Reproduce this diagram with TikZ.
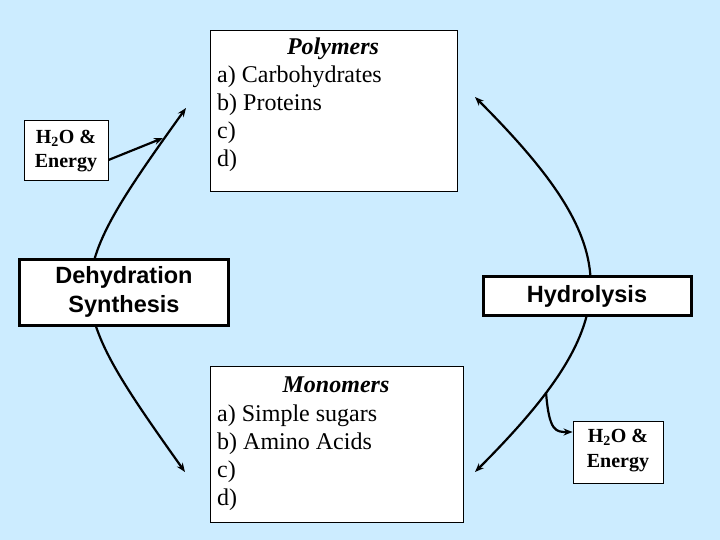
\documentclass[tikz,border=0pt]{standalone}
\usepackage{fontspec}
\setmainfont{Liberation Serif}
\setsansfont{Liberation Sans}
\usetikzlibrary{arrows.meta}
\definecolor{bg}{RGB}{204,236,255}
\tikzset{
  thinbox/.style={draw=black, line width=0.9pt, fill=white, inner sep=0pt},
  thickbox/.style={draw=black, line width=3pt, fill=white, inner sep=0pt},
  listtext/.style={font=\fontsize{24}{28}\selectfont, align=left, anchor=base west, inner sep=0pt},
  headtext/.style={font=\fontsize{24}{28}\selectfont\bfseries\itshape, anchor=base, inner sep=0pt},
  smalltext/.style={font=\fontsize{20}{24.5}\selectfont\bfseries, align=center, anchor=base, inner sep=0pt},
  sanstext/.style={font=\fontsize{23.5}{29}\selectfont\sffamily\bfseries, align=center, inner sep=0pt},
  cycle/.style={line width=2.2pt, -{Stealth[length=9pt,width=7pt]}},
  both/.style={line width=2.2pt, {Stealth[length=9pt,width=7pt]}-{Stealth[length=9pt,width=7pt]}}
}
\begin{document}
\begin{tikzpicture}[x=1pt,y=-1pt]
\path[fill=bg] (0,0) rectangle (720,540);
\useasboundingbox (0,0) rectangle (720,540);
% curve end points
\coordinate (ltop) at (186,108);
\coordinate (lbot) at (185,472);
\coordinate (rtop) at (475,97);
\coordinate (rbot) at (475,472);
\coordinate (lhit) at (163,138);
\coordinate (rhit) at (546,392);
% cycle curves
\draw[both] (lbot) .. controls (59,295) and (59,285) .. (ltop);
\draw[both] (rtop) .. controls (628,250) and (628,319) .. (rbot);
% polymers box
\node[thinbox, minimum width=247, minimum height=161] (poly) at (333.5,110.5) {};
\node[headtext] (polyhead) at (333,55) {Polymers};
\node[listtext] (polylist) at (217,167) {a) Carbohydrates\\ b) Proteins\\ c)\\ d)};
% monomers box
\node[thinbox, minimum width=253, minimum height=156] (mono) at (336.5,444) {};
\node[headtext] (monohead) at (336,392) {Monomers};
\node[listtext] (monolist) at (217,505) {a) Simple sugars\\ b) Amino Acids\\ c)\\ d)};
% process boxes
\node[thickbox, minimum width=209, minimum height=66] (dehyd) at (124,292) {};
\node[sanstext] (dehydtext) at (124,292) {Dehydration\\ Synthesis};
\node[thickbox, minimum width=208, minimum height=39] (hydro) at (587,296) {};
\node[sanstext] (hydrotext) at (587,296) {Hydrolysis};
% water & energy boxes
\node[thinbox, minimum width=84, minimum height=60] (lh2o) at (66,150) {};
\node[smalltext] (lh2otext) at (66,168) {H\textsubscript{2}O \&\\ Energy};
\node[thinbox, minimum width=90, minimum height=62] (rh2o) at (618,452) {};
\node[smalltext] (rh2otext) at (618,467) {H\textsubscript{2}O \&\\ Energy};
% connectors for water & energy
\draw[cycle] ([yshift=-10pt]lh2o.east) -- (lhit);
\draw[cycle] (rhit) .. controls (549,432) and (556,432) .. ([yshift=20pt]rh2o.west);
\end{tikzpicture}
\end{document}
